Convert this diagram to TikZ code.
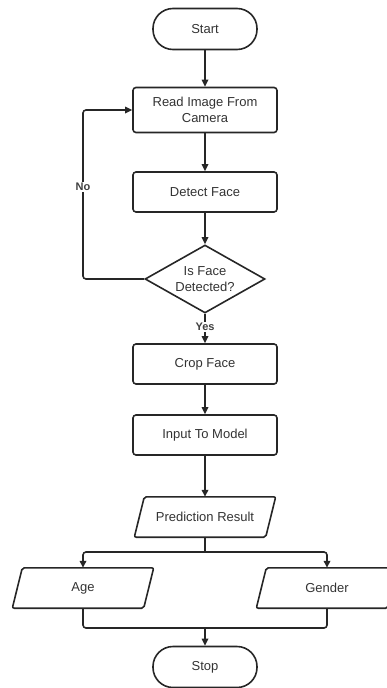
\documentclass[tikz,border=0pt]{standalone}
\usepackage{fontspec}
\setmainfont{Liberation Sans}
\usetikzlibrary{arrows.meta,shapes.geometric,calc}
\begin{document}
\begin{tikzpicture}[x=1pt,y=-1pt,
 line/.style={draw=black!85, line width=1.6pt, rounded corners=3pt},
 arr/.style={line, -{Triangle[length=7pt,width=6.5pt]}},
 base/.style={font=\fontsize{13}{15.5}\selectfont, text=black!80, align=center, inner sep=0pt},
 term/.style={base, draw=black!85, line width=1.6pt, rounded corners=20pt, minimum width=104pt, minimum height=41pt},
 proc/.style={base, draw=black!85, line width=1.6pt, rounded corners=3pt, minimum width=144pt, minimum height=40pt},
 dec/.style={base, diamond, draw=black!85, line width=1.6pt, aspect=1.76, minimum width=120pt, minimum height=68pt},
 io/.style={base, minimum width=131pt, minimum height=40pt},
 lbl/.style={font=\bfseries\fontsize{11}{12}\selectfont, text=black!75, fill=white, inner sep=1.5pt}
]
\useasboundingbox (0,0) rectangle (387,688);
\node[term] (start) at (205,29) {Start};
\node[proc, minimum height=45pt] (read) at (205,110) {Read Image From\\Camera};
\node[proc] (detect) at (205,192) {Detect Face};
\node[dec] (dec) at (205,279) {Is Face\\Detected?};
\node[proc] (crop) at (205,364) {Crop Face};
\node[proc] (input) at (205,435) {Input To Model};
\node[io] (pred) at (205,517) {Prediction Result};
\node[io] (age) at (83,588) {Age};
\node[io] (gender) at (327,588) {Gender};
\node[term] (stop) at (205,667) {Stop};
\foreach \n in {pred,age,gender}{
  \draw[draw=black!85, line width=1.6pt, rounded corners=2pt]
    ($(\n.south west)+(-5,0)$) -- ($(\n.north west)+(5,0)$) --
    ($(\n.north east)+(5,0)$) -- ($(\n.south east)+(-5,0)$) -- cycle;
}
\draw[arr] (start) -- (read);
\draw[arr] (read) -- (detect);
\draw[arr] (detect) -- (dec);
\coordinate (nox) at (83,279);
\draw[arr] (dec.west) -- (nox) |- (read.west);
\node[lbl] (no) at (83,187) {No};
\draw[arr] (dec.south) -- (crop);
\node[lbl] (yes) at (205,327) {Yes};
\draw[arr] (crop) -- (input);
\draw[arr] (input) -- (pred);
\coordinate (split) at (205,552);
\draw[line] (pred.south) -- (split);
\draw[arr] (split) -| (age.north);
\draw[arr] (split) -| (gender.north);
\coordinate (merge) at (205,628);
\draw[line] (age.south) |- (merge);
\draw[line] (gender.south) |- (merge);
\draw[arr] (merge) -- (stop);
\end{tikzpicture}
\end{document}
